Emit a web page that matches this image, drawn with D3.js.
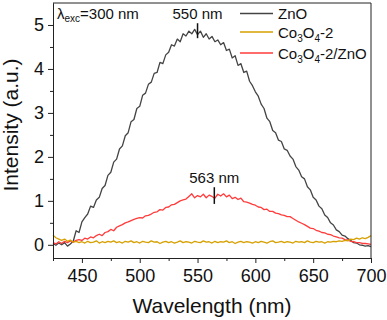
<!DOCTYPE html>
<html>
<head>
<meta charset="utf-8">
<script src="https://cdn.jsdelivr.net/npm/d3@7"></script>
<style>
    body { margin: 0; background: #fff; }
    svg text { font-family: Arial, 'Liberation Sans', sans-serif; fill: #111; }
</style>
</head>
<body>
<div class="plotdiv"></div>
<script>
// wavelength grid (nm), 2.5 nm steps
const wavelength = [
    425, 427.5, 430, 432.5, 435, 437.5, 440, 442.5, 445, 447.5,
    450, 452.5, 455, 457.5, 460, 462.5, 465, 467.5, 470, 472.5,
    475, 477.5, 480, 482.5, 485, 487.5, 490, 492.5, 495, 497.5,
    500, 502.5, 505, 507.5, 510, 512.5, 515, 517.5, 520, 522.5,
    525, 527.5, 530, 532.5, 535, 537.5, 540, 542.5, 545, 547.5,
    550, 552.5, 555, 557.5, 560, 562.5, 565, 567.5, 570, 572.5,
    575, 577.5, 580, 582.5, 585, 587.5, 590, 592.5, 595, 597.5,
    600, 602.5, 605, 607.5, 610, 612.5, 615, 617.5, 620, 622.5,
    625, 627.5, 630, 632.5, 635, 637.5, 640, 642.5, 645, 647.5,
    650, 652.5, 655, 657.5, 660, 662.5, 665, 667.5, 670, 672.5,
    675, 677.5, 680, 682.5, 685, 687.5, 690, 692.5, 695, 697.5,
    700
]

const znoVals = [
    0.03, -0.01, 0.04, 0.00, 0.05, -0.03, 0.02, 0.08, 0.32, 0.28,
    0.52, 0.62, 0.70, 0.88, 0.85, 1.02, 1.08, 1.28, 1.35, 1.58,
    1.65, 1.88, 1.95, 2.18, 2.25, 2.48, 2.55, 2.80, 2.85, 3.10,
    3.15, 3.40, 3.45, 3.65, 3.70, 3.90, 3.92, 4.15, 4.12, 4.32,
    4.38, 4.55, 4.52, 4.68, 4.62, 4.80, 4.75, 4.86, 4.80, 4.90,
    4.78, 4.86, 4.72, 4.80, 4.68, 4.74, 4.62, 4.66, 4.55, 4.60,
    4.42, 4.45, 4.25, 4.30, 4.08, 4.12, 3.92, 3.95, 3.72, 3.62,
    3.48, 3.38, 3.20, 3.10, 2.88, 2.80, 2.60, 2.55, 2.38, 2.35,
    2.18, 2.15, 2.02, 1.95, 1.78, 1.70, 1.55, 1.50, 1.32, 1.25,
    1.08, 1.02, 0.88, 0.82, 0.68, 0.62, 0.50, 0.45, 0.34, 0.30,
    0.22, 0.20, 0.14, 0.10, 0.05, 0.04, 0.00, -0.01, -0.03, -0.02,
    -0.04
]

const co3o4Vals = [
    0.22, 0.16, 0.13, 0.10, 0.13, 0.08, 0.11, 0.06, 0.08, 0.05,
    0.07, 0.04, 0.08, 0.05, 0.06, 0.09, 0.04, 0.07, 0.05, 0.08,
    0.06, 0.09, 0.05, 0.07, 0.04, 0.08, 0.06, 0.09, 0.05, 0.07,
    0.04, 0.08, 0.06, 0.05, 0.09, 0.06, 0.07, 0.03, 0.06, 0.08,
    0.05, 0.07, 0.04, 0.06, 0.09, 0.05, 0.07, 0.06, 0.04, 0.08,
    0.06, 0.05, 0.09, 0.06, 0.07, 0.04, 0.08, 0.05, 0.07, 0.06,
    0.09, 0.05, 0.07, 0.03, 0.06, 0.08, 0.05, 0.07, 0.06, 0.04,
    0.07, 0.05, 0.08, 0.06, 0.04, 0.07, 0.09, 0.05, 0.06, 0.08,
    0.05, 0.07, 0.06, 0.04, 0.08, 0.06, 0.07, 0.05, 0.09, 0.06,
    0.05, 0.08, 0.06, 0.07, 0.04, 0.07, 0.06, 0.08, 0.07, 0.09,
    0.08, 0.10, 0.09, 0.13, 0.12, 0.15, 0.13, 0.16, 0.14, 0.17,
    0.21
]

const compositeVals = [
    0.05, 0.02, 0.07, 0.03, 0.08, 0.05, 0.09, 0.06, 0.10, 0.12,
    0.10, 0.15, 0.13, 0.18, 0.16, 0.21, 0.24, 0.21, 0.28, 0.30,
    0.35, 0.32, 0.40, 0.43, 0.46, 0.50, 0.52, 0.55, 0.58, 0.60,
    0.62, 0.61, 0.66, 0.67, 0.70, 0.74, 0.75, 0.80, 0.79, 0.85,
    0.86, 0.91, 0.92, 0.96, 1.00, 1.02, 1.04, 1.10, 1.16, 1.07,
    1.12, 1.09, 1.15, 1.07, 1.13, 1.10, 1.06, 1.15, 1.11, 1.16,
    1.09, 1.13, 1.05, 1.08, 1.03, 1.06, 0.98, 0.97, 0.95, 0.92,
    0.90, 0.86, 0.85, 0.80, 0.81, 0.76, 0.76, 0.72, 0.71, 0.68,
    0.67, 0.64, 0.64, 0.60, 0.56, 0.52, 0.49, 0.46, 0.42, 0.38,
    0.37, 0.33, 0.31, 0.28, 0.27, 0.24, 0.23, 0.20, 0.18, 0.16,
    0.15, 0.12, 0.11, 0.08, 0.07, 0.05, 0.05, 0.03, 0.03, 0.02,
    0.01
]

const seriesNames = ['ZnO', 'Co3O4-2', 'Co3O4-2/ZnO']
const seriesColors = ['#444444', '#d6a000', '#ff3b3b']
const xTicks = [450, 500, 550, 600, 650, 700]
const xMinor = [425, 475, 525, 575, 625, 675]
const yTicks = [0, 1, 2, 3, 4, 5]
const yMinor = [0.5, 1.5, 2.5, 3.5, 4.5]

// peak markers: wavelength, marker bottom / top (intensity), label
const peaks = [
    { wl: 550, lo: 4.70, hi: 5.04, label: '550 nm' },
    { wl: 564.5, lo: 0.93, hi: 1.31, label: '563 nm' }
]

let w = 387, h = 320
let mLeft = 53, mRight = 371, mTop = 3, mBottom = 258

let svg = d3.select('.plotdiv').append('svg')
    .attr('width', w)
    .attr('height', h)

let xScale = d3.scaleLinear().domain([425, 700]).range([mLeft, mRight])
let yScale = d3.scaleLinear().domain([-0.3, 5.5]).range([mBottom, mTop])

let series = [znoVals, co3o4Vals, compositeVals].map((vals, k) => ({
    name: seriesNames[k],
    color: seriesColors[k],
    pts: vals.map((v, i) => ({ x: wavelength[i], y: v }))
}))

let line = d3.line()
    .x(d => xScale(d.x))
    .y(d => yScale(d.y))

// draw order: ZnO first, then red, Co3O4 on top
svg.append('g')
    .selectAll('path.spec')
    .data([series[0], series[2], series[1]])
    .enter()
    .append('path')
    .attr('class', 'spec')
    .attr('d', d => line(d.pts))
    .attr('fill', 'none')
    .attr('stroke', d => d.color)
    .attr('stroke-width', 1.3)
    .attr('stroke-linejoin', 'round')

// frame (top and right edges)
svg.append('path')
    .attr('d', `M${mLeft},${mTop}H${mRight}V${mBottom}`)
    .attr('fill', 'none')
    .attr('stroke', '#222')
    .attr('stroke-width', 1)

// axes
svg.append('g')
    .attr('transform', 'translate(0,' + mBottom + ')')
    .call(d3.axisBottom(xScale).tickValues(xTicks).tickSize(5).tickPadding(6).tickSizeOuter(0))
svg.append('g')
    .attr('transform', 'translate(0,' + mBottom + ')')
    .call(d3.axisBottom(xScale).tickValues(xMinor).tickSize(3).tickFormat('').tickSizeOuter(0))

svg.append('g')
    .attr('transform', 'translate(' + mLeft + ',0)')
    .call(d3.axisLeft(yScale).tickValues(yTicks).tickFormat(d3.format('d'))
        .tickSize(5).tickPadding(4).tickSizeOuter(0))
svg.append('g')
    .attr('transform', 'translate(' + mLeft + ',0)')
    .call(d3.axisLeft(yScale).tickValues(yMinor).tickSize(3).tickFormat('').tickSizeOuter(0))

svg.selectAll('.domain').attr('stroke', '#222')
svg.selectAll('.tick line').attr('stroke', '#222')
svg.selectAll('.tick text')
    .style('font-size', '18px')
    .style('font-family', "Arial, 'Liberation Sans', sans-serif")
    .attr('fill', '#111')

// axis titles
svg.append('text')
    .attr('x', (mLeft + mRight) / 2)
    .attr('y', 313)
    .attr('text-anchor', 'middle')
    .style('font-size', '21px')
    .text('Wavelength (nm)')

svg.append('text')
    .attr('transform', 'translate(18,125) rotate(-90)')
    .attr('text-anchor', 'middle')
    .style('font-size', '21px')
    .text('Intensity (a.u.)')

// excitation note
let exc = svg.append('text')
    .attr('x', 57)
    .attr('y', 19)
    .style('font-size', '15px')
exc.append('tspan').text('λ')
exc.append('tspan').attr('dy', 3).style('font-size', '10px').text('exc')
exc.append('tspan').attr('dy', -3).text('=300 nm')

// peak markers
peaks.forEach(p => {
    svg.append('line')
        .attr('x1', xScale(p.wl)).attr('x2', xScale(p.wl))
        .attr('y1', yScale(p.lo)).attr('y2', yScale(p.hi))
        .attr('stroke', '#111')
        .attr('stroke-width', 1.5)
    svg.append('text')
        .attr('x', xScale(p.wl))
        .attr('y', yScale(p.hi) - 4)
        .attr('text-anchor', 'middle')
        .style('font-size', '15px')
        .text(p.label)
})

// legend
let legendY = [13.5, 32, 53]
let legend = svg.append('g')
series.forEach((s, i) => {
    legend.append('line')
        .attr('x1', 240).attr('x2', 273)
        .attr('y1', legendY[i]).attr('y2', legendY[i])
        .attr('stroke', s.color)
        .attr('stroke-width', 1.3)
    let t = legend.append('text')
        .attr('x', 278)
        .attr('y', legendY[i] + 5.5)
        .style('font-size', '15px')
    // digits right after a letter are subscripts
    let parts = s.name.match(/[A-Za-z]+|\d|[^A-Za-z\d]+/g)
    let low = false
    parts.forEach((part, j) => {
        let isSub = /^\d$/.test(part) && j > 0 && /[A-Za-z]$/.test(parts[j - 1])
        let ts = t.append('tspan').text(part)
        if (isSub && !low) { ts.attr('dy', 4).style('font-size', '10px'); low = true }
        else if (isSub) { ts.style('font-size', '10px') }
        else if (low) { ts.attr('dy', -4); low = false }
    })
})
</script>
</body>
</html>
